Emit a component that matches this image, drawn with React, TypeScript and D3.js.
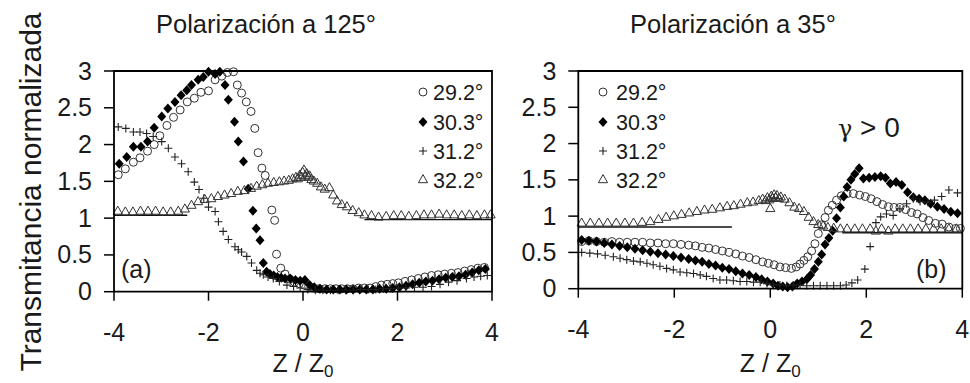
import React from 'react';
import * as d3 from 'd3';

type Pt = [number, number];

// ---------- tick labels / text ----------
const xTicks = [-4, -2, 0, 2, 4];
const xTickLabels = ['-4', '-2', '0', '2', '4'];
const yTicks = [0, 0.5, 1, 1.5, 2, 2.5, 3];
const yTickLabels = ['0', '0.5', '1', '1.5', '2', '2.5', '3'];
const seriesNames = ['29.2°', '30.3°', '31.2°', '32.2°'];
const panelTitles = ['Polarización a 125°', 'Polarización a 35°'];
const panelTags = ['(a)', '(b)'];
const yAxisTitle = 'Transmitancia normalizada';

// ---------- panel (a): polarización a 125° ----------
const a29: Pt[] = [
  [-3.91, 1.59], [-3.76, 1.67], [-3.59, 1.76], [-3.45, 1.82], [-3.29, 1.91], [-3.15, 2.0], [-3.03, 2.12],
  [-2.88, 2.26], [-2.74, 2.37], [-2.6, 2.47], [-2.45, 2.58], [-2.3, 2.63], [-2.16, 2.71], [-2.0, 2.73],
  [-1.86, 2.88], [-1.72, 2.93], [-1.6, 2.98], [-1.47, 2.99], [-1.39, 2.81], [-1.3, 2.7], [-1.2, 2.58],
  [-1.1, 2.45], [-1.02, 2.22], [-0.95, 1.89], [-0.87, 1.68], [-0.8, 1.58], [-0.66, 1.11], [-0.6, 0.97],
  [-0.56, 0.51], [-0.47, 0.32], [-0.38, 0.24], [-0.28, 0.17], [-0.18, 0.13], [-0.08, 0.11], [0.02, 0.09],
  [0.12, 0.07], [0.22, 0.05], [0.34, 0.04], [0.46, 0.04], [0.58, 0.04], [0.7, 0.04], [0.82, 0.04],
  [0.94, 0.04], [1.06, 0.04], [1.18, 0.05], [1.3, 0.05], [1.42, 0.05], [1.54, 0.07], [1.66, 0.09],
  [1.78, 0.1], [1.9, 0.11], [2.02, 0.12], [2.16, 0.14], [2.3, 0.16], [2.44, 0.18], [2.58, 0.2],
  [2.72, 0.22], [2.86, 0.23], [3.0, 0.24], [3.14, 0.25], [3.28, 0.26], [3.42, 0.28], [3.56, 0.3],
  [3.7, 0.32], [3.84, 0.33],
];
const a30: Pt[] = [
  [-3.89, 1.74], [-3.73, 1.83], [-3.59, 1.97], [-3.43, 1.97], [-3.29, 2.04], [-3.15, 2.23], [-2.99, 2.38],
  [-2.86, 2.49], [-2.71, 2.58], [-2.58, 2.67], [-2.46, 2.74], [-2.36, 2.81], [-2.22, 2.88], [-2.11, 2.92],
  [-2.0, 2.99], [-1.86, 2.96], [-1.76, 2.99], [-1.65, 2.81], [-1.58, 2.61], [-1.45, 2.31], [-1.37, 2.04],
  [-1.26, 1.77], [-1.16, 1.4], [-1.06, 1.1], [-0.99, 0.86], [-0.91, 0.7], [-0.84, 0.39], [-0.77, 0.27],
  [-0.7, 0.24], [-0.62, 0.22], [-0.54, 0.2], [-0.46, 0.19], [-0.38, 0.18], [-0.27, 0.18], [-0.16, 0.16],
  [-0.06, 0.15], [0.04, 0.16], [0.14, 0.09], [0.24, 0.06], [0.36, 0.04], [0.5, 0.03], [0.64, 0.03],
  [0.78, 0.03], [0.92, 0.03], [1.06, 0.03], [1.2, 0.03], [1.34, 0.03], [1.48, 0.03], [1.62, 0.04],
  [1.76, 0.04], [1.9, 0.05], [2.04, 0.06], [2.18, 0.08], [2.32, 0.1], [2.46, 0.12], [2.6, 0.14],
  [2.74, 0.15], [2.88, 0.17], [3.02, 0.19], [3.16, 0.2], [3.3, 0.21], [3.44, 0.23], [3.58, 0.26],
  [3.72, 0.29], [3.86, 0.31],
];
const a31: Pt[] = [
  [-3.91, 2.24], [-3.75, 2.22], [-3.59, 2.17], [-3.45, 2.17], [-3.31, 2.15], [-3.17, 2.11], [-2.99, 2.04],
  [-2.85, 1.95], [-2.71, 1.83], [-2.57, 1.74], [-2.43, 1.63], [-2.3, 1.49], [-2.2, 1.39], [-2.1, 1.27],
  [-2.0, 1.15], [-1.86, 1.09], [-1.79, 0.95], [-1.69, 0.82], [-1.58, 0.71], [-1.44, 0.61], [-1.37, 0.57],
  [-1.3, 0.54], [-1.19, 0.48], [-1.09, 0.39], [-0.98, 0.29], [-0.91, 0.25], [-0.84, 0.23], [-0.74, 0.2],
  [-0.63, 0.18], [-0.5, 0.14], [-0.34, 0.09], [-0.2, 0.07], [-0.06, 0.05], [0.1, 0.03], [0.26, 0.02],
  [0.42, 0.02], [0.58, 0.02], [0.74, 0.02], [0.9, 0.02], [1.06, 0.02], [1.22, 0.03], [1.38, 0.03],
  [1.54, 0.03], [1.7, 0.04], [1.86, 0.04], [2.02, 0.05], [2.18, 0.05], [2.36, 0.06], [2.54, 0.06],
  [2.72, 0.07], [2.9, 0.1], [3.08, 0.13], [3.26, 0.15], [3.46, 0.18], [3.62, 0.2], [3.76, 0.21], [3.9, 0.22],
];
const a32: Pt[] = [
  [-3.92, 1.09], [-3.76, 1.08], [-3.6, 1.08], [-3.44, 1.09], [-3.28, 1.09], [-3.12, 1.09], [-2.96, 1.08],
  [-2.8, 1.08], [-2.64, 1.09], [-2.5, 1.12], [-2.36, 1.17], [-2.22, 1.22], [-2.08, 1.25], [-1.94, 1.26],
  [-1.8, 1.29], [-1.66, 1.31], [-1.52, 1.33], [-1.38, 1.36], [-1.24, 1.37], [-1.1, 1.4], [-0.98, 1.43],
  [-0.86, 1.45], [-0.74, 1.47], [-0.62, 1.48], [-0.5, 1.49], [-0.4, 1.5], [-0.3, 1.51], [-0.22, 1.53],
  [-0.15, 1.55], [-0.11, 1.53], [-0.07, 1.58], [-0.04, 1.55], [-0.01, 1.62], [0.02, 1.65], [0.05, 1.57],
  [0.08, 1.6], [0.11, 1.55], [0.14, 1.57], [0.18, 1.52], [0.23, 1.5], [0.3, 1.47], [0.38, 1.42],
  [0.46, 1.39], [0.56, 1.41], [0.64, 1.31], [0.72, 1.23], [0.82, 1.18], [0.93, 1.15], [1.05, 1.1],
  [1.18, 1.07], [1.3, 1.04], [1.45, 1.03], [1.6, 1.01], [1.76, 1.02], [1.92, 1.03], [2.08, 1.03],
  [2.24, 1.02], [2.4, 1.03], [2.56, 1.04], [2.72, 1.04], [2.88, 1.05], [3.04, 1.04], [3.2, 1.04],
  [3.36, 1.03], [3.52, 1.04], [3.68, 1.03], [3.84, 1.04], [3.97, 1.04],
];
// straight baseline segments [zStart, zEnd, value]
const aBaselines: [number, number, number][] = [[-4, -2.45, 1.04], [1.3, 4, 0.98]];

// ---------- panel (b): polarización a 35° ----------
const b29: Pt[] = [
  [-3.93, 0.65], [-3.78, 0.66], [-3.62, 0.65], [-3.46, 0.64], [-3.3, 0.65], [-3.14, 0.64], [-2.98, 0.64],
  [-2.82, 0.64], [-2.66, 0.64], [-2.5, 0.63], [-2.34, 0.63], [-2.18, 0.62], [-2.02, 0.62], [-1.86, 0.61],
  [-1.7, 0.6], [-1.56, 0.59], [-1.42, 0.57], [-1.28, 0.56], [-1.14, 0.54], [-1.0, 0.52], [-0.86, 0.5],
  [-0.72, 0.48], [-0.58, 0.45], [-0.44, 0.43], [-0.3, 0.4], [-0.16, 0.37], [-0.04, 0.35], [0.08, 0.33],
  [0.2, 0.3], [0.32, 0.29], [0.44, 0.28], [0.54, 0.3], [0.62, 0.34], [0.7, 0.39], [0.78, 0.44],
  [0.86, 0.52], [0.93, 0.62], [1.0, 0.76], [1.07, 0.88], [1.14, 0.98], [1.21, 1.08], [1.29, 1.15],
  [1.38, 1.22], [1.48, 1.28], [1.6, 1.31], [1.73, 1.31], [1.86, 1.29], [1.98, 1.27], [2.1, 1.24],
  [2.22, 1.2], [2.34, 1.16], [2.46, 1.13], [2.58, 1.12], [2.7, 1.12], [2.82, 1.09], [2.94, 1.05],
  [3.06, 1.03], [3.18, 0.98], [3.3, 0.94], [3.44, 0.9], [3.58, 0.89], [3.72, 0.85], [3.86, 0.83], [3.96, 0.83],
];
const b30: Pt[] = [
  [-3.93, 0.67], [-3.78, 0.66], [-3.62, 0.65], [-3.46, 0.63], [-3.3, 0.61], [-3.14, 0.59], [-2.98, 0.57],
  [-2.82, 0.55], [-2.66, 0.53], [-2.5, 0.51], [-2.34, 0.49], [-2.18, 0.47], [-2.02, 0.45], [-1.86, 0.43],
  [-1.7, 0.41], [-1.56, 0.39], [-1.42, 0.37], [-1.28, 0.34], [-1.14, 0.32], [-1.0, 0.29], [-0.86, 0.27],
  [-0.72, 0.24], [-0.58, 0.21], [-0.44, 0.19], [-0.3, 0.16], [-0.18, 0.13], [-0.06, 0.1], [0.06, 0.07],
  [0.16, 0.04], [0.26, 0.03], [0.36, 0.02], [0.46, 0.03], [0.56, 0.07], [0.66, 0.1], [0.76, 0.13],
  [0.84, 0.19], [0.92, 0.27], [1.0, 0.37], [1.07, 0.47], [1.14, 0.61], [1.22, 0.7], [1.3, 0.8],
  [1.38, 0.97], [1.46, 1.12], [1.53, 1.27], [1.6, 1.4], [1.68, 1.5], [1.76, 1.58], [1.85, 1.66],
  [1.94, 1.52], [2.06, 1.53], [2.18, 1.54], [2.3, 1.55], [2.4, 1.53], [2.5, 1.45], [2.62, 1.47],
  [2.74, 1.43], [2.86, 1.33], [2.98, 1.26], [3.1, 1.24], [3.22, 1.22], [3.34, 1.17], [3.48, 1.13],
  [3.62, 1.1], [3.76, 1.06], [3.9, 1.04],
];
const b31: Pt[] = [
  [-3.93, 0.5], [-3.76, 0.49], [-3.6, 0.48], [-3.44, 0.46], [-3.27, 0.44], [-3.13, 0.42], [-2.99, 0.4],
  [-2.85, 0.38], [-2.71, 0.37], [-2.57, 0.35], [-2.44, 0.33], [-2.3, 0.31], [-2.16, 0.28], [-2.02, 0.26],
  [-1.88, 0.23], [-1.74, 0.22], [-1.6, 0.21], [-1.46, 0.19], [-1.33, 0.17], [-1.19, 0.14], [-1.05, 0.12],
  [-0.91, 0.12], [-0.77, 0.11], [-0.63, 0.1], [-0.49, 0.1], [-0.35, 0.09], [-0.21, 0.09], [-0.07, 0.07],
  [0.06, 0.05], [0.2, 0.05], [0.34, 0.04], [0.48, 0.05], [0.62, 0.05], [0.76, 0.04], [0.9, 0.04],
  [1.04, 0.04], [1.18, 0.04], [1.32, 0.04], [1.46, 0.04], [1.58, 0.05], [1.7, 0.08], [1.82, 0.12],
  [1.97, 0.27], [2.08, 0.58], [2.2, 0.91], [2.3, 0.99], [2.42, 1.03], [2.56, 1.01], [2.7, 1.1],
  [2.84, 1.17], [2.98, 1.24], [3.12, 1.2], [3.28, 1.19], [3.42, 1.22], [3.57, 1.27], [3.72, 1.36], [3.9, 1.32],
];
const b32: Pt[] = [
  [-3.93, 0.9], [-3.75, 0.9], [-3.57, 0.9], [-3.39, 0.9], [-3.21, 0.9], [-3.03, 0.9], [-2.85, 0.9],
  [-2.67, 0.91], [-2.5, 0.92], [-2.33, 0.95], [-2.17, 0.98], [-2.01, 1.0], [-1.85, 1.02], [-1.69, 1.04],
  [-1.53, 1.06], [-1.37, 1.08], [-1.21, 1.09], [-1.05, 1.11], [-0.9, 1.13], [-0.76, 1.14], [-0.62, 1.16],
  [-0.48, 1.18], [-0.36, 1.19], [-0.24, 1.21], [-0.16, 1.23], [-0.1, 1.21], [-0.06, 1.25], [-0.02, 1.22],
  [0.0, 1.1], [0.02, 1.27], [0.05, 1.24], [0.08, 1.29], [0.11, 1.25], [0.14, 1.28], [0.18, 1.24],
  [0.22, 1.26], [0.3, 1.23], [0.4, 1.18], [0.5, 1.12], [0.6, 1.1], [0.7, 1.06], [0.8, 0.98], [0.9, 0.92],
  [1.0, 0.88], [1.1, 0.86], [1.2, 0.84], [1.32, 0.83], [1.46, 0.82], [1.6, 0.82], [1.76, 0.82],
  [1.92, 0.82], [2.08, 0.82], [2.2, 0.79], [2.32, 0.82], [2.46, 0.79], [2.6, 0.82], [2.76, 0.82],
  [2.92, 0.82], [3.08, 0.82], [3.24, 0.82], [3.4, 0.82], [3.56, 0.82], [3.72, 0.82], [3.88, 0.82],
];
const bBaselines: [number, number, number][] = [[-4, -0.8, 0.85], [1.5, 4, 0.77]];

// ---------- layout (positions / styles) ----------
const FONT = "'Liberation Sans', Arial, Helvetica, sans-serif";
const INK = '#1a1a1a';

const panels = [
  {
    x0: 114, x1: 492, yTop: 71, yBot: 291.7, titleX: 266, title: panelTitles[0], tag: panelTags[0],
    tagX: 121, legendSymX: 423, legendTextX: 433, data: [a29, a30, a31, a32], baselines: aBaselines,
  },
  {
    x0: 578.3, x1: 962.3, yTop: 71, yBot: 288.7, titleX: 733, title: panelTitles[1], tag: panelTags[1],
    tagX: 916, legendSymX: 603, legendTextX: 616, data: [b29, b30, b31, b32], baselines: bBaselines,
  },
];
const legendRows = [92, 122, 151, 180];

const Marker: React.FC<{ kind: number; x: number; y: number }> = ({ kind, x, y }) => {
  const t = `translate(${x},${y})`;
  if (kind === 0) return <circle cx={x} cy={y} r={4} fill="none" stroke="#333" strokeWidth={1} />;
  if (kind === 1) return <path transform={t} d="M0,-5L4.5,0L0,5L-4.5,0Z" fill="#000" />;
  if (kind === 2) return <path transform={t} d="M-4,0H4M0,-4V4" stroke="#222" strokeWidth={1.1} fill="none" />;
  return <path transform={t} d="M0,-5.4L4.6,2.7L-4.6,2.7Z" fill="none" stroke="#333" strokeWidth={1} />;
};

const Panel: React.FC<{ p: (typeof panels)[number] }> = ({ p }) => {
  const x = d3.scaleLinear().domain([-4, 4]).range([p.x0, p.x1]);
  const y = d3.scaleLinear().domain([0, 3]).range([p.yBot, p.yTop]);
  const frame = d3.path();
  frame.moveTo(p.x0, p.yBot);
  frame.lineTo(p.x0, p.yTop);
  frame.lineTo(p.x1, p.yTop);
  frame.lineTo(p.x1, p.yBot);
  frame.closePath();
  const cx = (p.x0 + p.x1) / 2;
  return (
    <g>
      {/* title */}
      <text x={p.titleX} y={33} textAnchor="middle" fontSize={25.5} fontFamily={FONT} fill={INK}>
        {p.title}
      </text>
      {/* baselines */}
      {p.baselines.map((b, i) => (
        <line key={'bl' + i} x1={x(b[0])} x2={x(b[1])} y1={y(b[2])} y2={y(b[2])} stroke="#111" strokeWidth={1.4} />
      ))}
      {/* data */}
      {p.data.map((s, k) => (
        <g key={'s' + k}>
          {s.map((d, i) => (
            <Marker key={i} kind={k} x={x(d[0])} y={y(d[1])} />
          ))}
        </g>
      ))}
      {/* frame */}
      <path d={frame.toString()} fill="none" stroke="#000" strokeWidth={1.8} />
      {/* y ticks */}
      {yTicks.map((v, i) => (
        <g key={'yt' + i}>
          <line x1={p.x0 - 10} x2={p.x0} y1={y(v)} y2={y(v)} stroke="#000" strokeWidth={1.5} />
          <text x={p.x0 - 22} y={y(v) + 8.5} textAnchor="end" fontSize={25} fontFamily={FONT} fill={INK}>
            {yTickLabels[i]}
          </text>
        </g>
      ))}
      {/* x ticks */}
      {xTicks.map((v, i) => (
        <g key={'xt' + i}>
          <line x1={x(v)} x2={x(v)} y1={p.yBot} y2={p.yBot + 9} stroke="#000" strokeWidth={1.5} />
          <text x={x(v)} y={p.yBot + 49} textAnchor="middle" fontSize={25} fontFamily={FONT} fill={INK}>
            {xTickLabels[i]}
          </text>
        </g>
      ))}
      {/* x axis title */}
      <text x={cx} y={372} textAnchor="middle" fontSize={25} fontFamily={FONT} fill={INK}>
        Z / Z<tspan fontSize={17} dy={5}>0</tspan>
      </text>
      {/* tag */}
      <text x={p.tagX} y={278} fontSize={25} fontFamily={FONT} fill={INK}>
        {p.tag}
      </text>
      {/* legend */}
      {seriesNames.map((n, k) => (
        <g key={'lg' + k}>
          <Marker kind={k} x={p.legendSymX} y={legendRows[k]} />
          <text x={p.legendTextX} y={legendRows[k] + 7.5} fontSize={21.5} fontFamily={FONT} fill={INK}>
            {n}
          </text>
        </g>
      ))}
    </g>
  );
};

export default function App() {
  return (
    <svg
      width={970}
      height={383}
      viewBox="0 0 970 383"
      style={{ position: 'absolute', left: 0, top: 0, background: '#fff' }}
    >
      <rect width={970} height={383} fill="#fff" />
      <text
        transform="translate(41,192) rotate(-90)"
        textAnchor="middle"
        fontSize={30}
        fontFamily={FONT}
        fill={INK}
      >
        {yAxisTitle}
      </text>
      {panels.map((p, i) => (
        <Panel key={i} p={p} />
      ))}
      <text x={838} y={137} fontSize={28} fontFamily={FONT} fill={INK}>
        <tspan fontFamily="'DejaVu Serif', serif" fontSize={24}>γ</tspan> &gt; 0
      </text>
    </svg>
  );
}
